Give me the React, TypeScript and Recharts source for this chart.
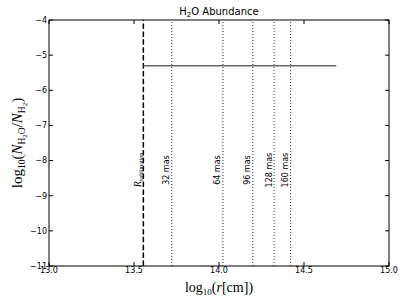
import { ComposedChart, Line, XAxis, YAxis, ReferenceLine, Label } from "recharts"

// axis ticks
const xTicks = [13.0, 13.5, 14.0, 14.5, 15.0]
const yTicks = [-11, -10, -9, -8, -7, -6, -5, -4]

// abundance profile (log10 r, log10 ratio)
const abundanceR = [13.555, 14.69]
const abundanceLog = [-5.3, -5.3]

// sublimation radius + ring radii
const sublimationR = 13.555
const ringR = [13.722, 14.023, 14.199, 14.324, 14.421]
const ringLabels = ["32 mas", "64 mas", "96 mas", "128 mas", "160 mas"]

const data = abundanceR.map((r, i) => ({ r, v: abundanceLog[i] }))

const TM = 2
const TICK = 4
const sans = "DejaVu Sans"
const serif = "Liberation Serif"

const minus = (v: number) => (v < 0 ? "\u2212" + Math.abs(v) : String(v))

const BottomTick = (p: any) => {
  const y0 = p.y - TM
  return (
    <g>
      <line x1={p.x} x2={p.x} y1={y0} y2={y0 - TICK} stroke="#000" />
      <text x={p.x} y={y0 + 1} dy="0.76em" textAnchor="middle" fontFamily={sans} fontSize={8} fill="#000">
        {p.payload.value.toFixed(1)}
      </text>
    </g>
  )
}

const LeftTick = (p: any) => {
  const x0 = p.x + TM
  return (
    <g>
      <line x1={x0} x2={x0 + TICK} y1={p.y} y2={p.y} stroke="#000" />
      <text x={x0 - 2} y={p.y} dy="0.35em" textAnchor="end" fontFamily={sans} fontSize={8} fill="#000">
        {minus(p.payload.value)}
      </text>
    </g>
  )
}

const TopTick = (p: any) => {
  const y0 = p.y + TM
  return <line x1={p.x} x2={p.x} y1={y0} y2={y0 + TICK} stroke="#000" />
}

const RightTick = (p: any) => {
  const x0 = p.x - TM
  return <line x1={x0} x2={x0 - TICK} y1={p.y} y2={p.y} stroke="#000" />
}

const ringLabel = (text: string) => (props: any) => {
  const vb = props.viewBox
  const cx = vb.x - 5
  const cy = vb.y + vb.height * 0.61
  return (
    <text x={cx} y={cy} transform={`rotate(-90 ${cx} ${cy})`} textAnchor="middle" dominantBaseline="central"
      fontFamily={sans} fontSize={8} fill="#000">
      {text}
    </text>
  )
}

const sublimationLabel = (props: any) => {
  const vb = props.viewBox
  const bx = vb.x - 2
  const cy = vb.y + vb.height * 0.61
  return (
    <text x={bx} y={cy} transform={`rotate(-90 ${bx} ${cy})`} textAnchor="middle" fontFamily={serif} fill="#000">
      <tspan fontStyle="italic" fontSize={10}>R</tspan>
      <tspan fontSize={6} dy={2}>sublimation</tspan>
    </text>
  )
}

const xLabel = (props: any) => {
  const vb = props.viewBox
  const cx = vb.x + vb.width / 2
  return (
    <text x={cx} y={292} textAnchor="middle" fontFamily={serif} fontSize={14} fill="#000">
      log<tspan fontSize={9} dy={3}>10</tspan>
      <tspan dy={-3}>(</tspan>
      <tspan fontStyle="italic">r</tspan>[cm])
    </text>
  )
}

const yLabel = (props: any) => {
  const vb = props.viewBox
  const cy = vb.y + vb.height / 2
  const bx = 22
  return (
    <text x={bx} y={cy} transform={`rotate(-90 ${bx} ${cy})`} textAnchor="middle" fontFamily={serif} fontSize={15} fill="#000">
      log<tspan fontSize={9.5} dy={3}>10</tspan>
      <tspan dy={-3}>(</tspan>
      <tspan fontStyle="italic">N</tspan>
      <tspan fontSize={9.5} dy={3}>H</tspan>
      <tspan fontSize={7} dy={2}>2</tspan>
      <tspan fontSize={9.5} dy={-2}>O</tspan>
      <tspan dy={-3}>/</tspan>
      <tspan fontStyle="italic">N</tspan>
      <tspan fontSize={9.5} dy={3}>H</tspan>
      <tspan fontSize={7} dy={2}>2</tspan>
      <tspan dy={-5}>)</tspan>
    </text>
  )
}

export default function App() {
  return (
    <div style={{ position: "absolute", left: 0, top: 0, width: 407, height: 305, background: "#fff" }}>
      <ComposedChart width={407} height={305} data={data} margin={{ top: 19, right: 17, bottom: 19, left: 9 }}>
        <text x={219} y={15} textAnchor="middle" fontFamily={sans} fontSize={10} fill="#000">
          H<tspan fontSize={7} dy={2}>2</tspan>
          <tspan dy={-2}>O Abundance</tspan>
        </text>
        <XAxis dataKey="r" type="number" domain={[13, 15]} ticks={xTicks} allowDataOverflow
          height={20} tickSize={0} tickMargin={TM} tick={BottomTick} axisLine={{ stroke: "#000" }} interval={0}>
          <Label content={xLabel} />
        </XAxis>
        <XAxis xAxisId="top" orientation="top" dataKey="r" type="number" domain={[13, 15]} ticks={xTicks}
          allowDataOverflow height={1} tickSize={0} tickMargin={TM} tick={TopTick} axisLine={{ stroke: "#000" }} interval={0} />
        <YAxis type="number" domain={[-11, -4]} ticks={yTicks} allowDataOverflow width={40}
          tickSize={0} tickMargin={TM} tick={LeftTick} axisLine={{ stroke: "#000" }} interval={0}>
          <Label content={yLabel} />
        </YAxis>
        <YAxis yAxisId="right" orientation="right" type="number" domain={[-11, -4]} ticks={yTicks} allowDataOverflow
          width={1} tickSize={0} tickMargin={TM} tick={RightTick} axisLine={{ stroke: "#000" }} interval={0} />
        <ReferenceLine x={sublimationR} stroke="#000" strokeWidth={1.5} strokeDasharray="5.5 2.4" label={sublimationLabel} />
        {ringR.map((r, i) => (
          <ReferenceLine key={ringLabels[i]} x={r} stroke="#333" strokeWidth={1} strokeDasharray="1 2" label={ringLabel(ringLabels[i])} />
        ))}
        <Line dataKey="v" stroke="#666" strokeWidth={1.4} dot={false} isAnimationActive={false} />
      </ComposedChart>
    </div>
  )
}
